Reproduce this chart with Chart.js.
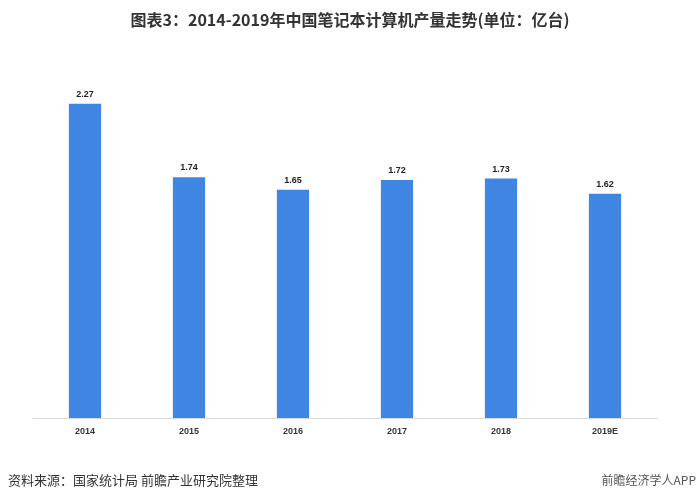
<!DOCTYPE html>
<html>
<head>
<meta charset="utf-8">
<script src="https://cdn.jsdelivr.net/npm/chart.js@4/dist/chart.umd.min.js"></script>
<style>
html,body{margin:0;padding:0;background:#fff;}
#wrap{position:relative;width:700px;height:501px;}
</style>
</head>
<body>
<div id="wrap"><canvas id="c" width="700" height="501"></canvas></div>
<script>
const categories = ['2014','2015','2016','2017','2018','2019E'];
const production = [2.27, 1.74, 1.65, 1.72, 1.73, 1.62];
const titleText = '图表3：2014-2019年中国笔记本计算机产量走势(单位：亿台)';
const sourceText = '资料来源：国家统计局 前瞻产业研究院整理';
const brandText = '前瞻经济学人APP';

const cjk = '"Noto Sans CJK SC", "Noto Sans", sans-serif';

const textPlugin = {
  id: 'texts',
  afterDraw(chart) {
    const ctx = chart.ctx;
    ctx.save();
    // title
    ctx.fillStyle = '#333333';
    ctx.font = 'bold 16px ' + cjk;
    ctx.textAlign = 'center';
    ctx.textBaseline = 'middle';
    ctx.fillText(titleText, 350, 20);
    // value labels
    const meta = chart.getDatasetMeta(0);
    ctx.font = 'bold 9px "Liberation Sans", Arial, sans-serif';
    ctx.textBaseline = 'alphabetic';
    ctx.fillStyle = '#222222';
    meta.data.forEach((bar, i) => {
      ctx.fillText(production[i].toFixed(2), bar.x, bar.y - 7);
    });
    // footer
    ctx.font = '13px ' + cjk;
    ctx.textAlign = 'left';
    ctx.textBaseline = 'middle';
    ctx.fillStyle = '#333333';
    ctx.fillText(sourceText, 8, 480);
    ctx.font = '12px ' + cjk;
    ctx.textAlign = 'right';
    ctx.fillStyle = '#555555';
    ctx.fillText(brandText, 696, 480);
    ctx.restore();
  }
};

new Chart(document.getElementById('c'), {
  type: 'bar',
  data: {
    labels: categories,
    datasets: [{
      data: production,
      backgroundColor: '#3F85E2',
      borderWidth: 0,
      categoryPercentage: 1,
      barPercentage: 0.31
    }]
  },
  options: {
    responsive: false,
    animation: false,
    layout: { padding: { left: 33, right: 43, top: 72, bottom: 0 } },
    plugins: { legend: { display: false }, tooltip: { enabled: false }, title: { display: false } },
    scales: {
      x: {
        offset: true,
        grid: { display: false, drawTicks: false },
        border: { display: true, color: '#d9d9d9', width: 1 },
        ticks: {
          padding: 8,
          color: '#333333',
          font: { family: '"Liberation Sans", Arial, sans-serif', size: 9, weight: 'bold' }
        },
        afterFit(scale) { scale.height = 83; }
      },
      y: {
        display: false,
        min: 0,
        max: 2.5
      }
    }
  },
  plugins: [textPlugin]
});
</script>
</body>
</html>
